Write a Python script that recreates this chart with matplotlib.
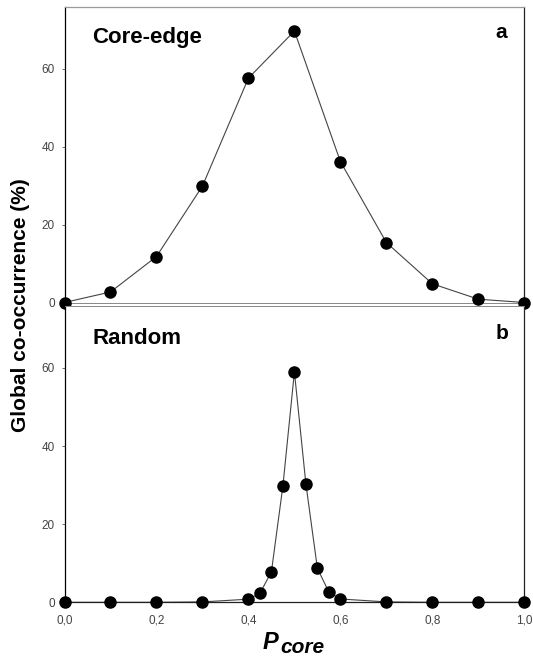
import matplotlib
matplotlib.use('Agg')
import matplotlib.pyplot as plt

plt.rcParams['font.family'] = ['Liberation Sans', 'DejaVu Sans']

# ── data ──────────────────────────────────────────────
x_core = [0.0, 0.1, 0.2, 0.3, 0.4, 0.5, 0.6, 0.7, 0.8, 0.9, 1.0]
y_core = [0.0, 2.7, 11.8, 29.9, 57.6, 69.7, 36.2, 15.4, 4.8, 0.85, 0.0]

x_rand = [0.0, 0.1, 0.2, 0.3, 0.4, 0.425, 0.45, 0.475, 0.5, 0.525, 0.55,
          0.575, 0.6, 0.7, 0.8, 0.9, 1.0]
y_rand = [0.0, 0.0, 0.0, 0.1, 0.8, 2.3, 7.8, 29.8, 59.0, 30.3, 8.7,
          2.6, 0.85, 0.1, 0.0, 0.0, 0.0]

x_ticks = [0.0, 0.2, 0.4, 0.6, 0.8, 1.0]
x_ticklabels = ['0,0', '0,2', '0,4', '0,6', '0,8', '1,0']
y_ticks = [0, 20, 40, 60]

W, H = 533, 656
fig = plt.figure(figsize=(W / 100, H / 100), dpi=100)

L, R = 64.5 / W, 524.3 / W
ax_a = fig.add_axes([L, 1 - 302.5 / H, R - L, (302.5 - 6.5) / H])
ax_b = fig.add_axes([L, 1 - 602.3 / H, R - L, (602.3 - 305.5) / H])

for ax, xs, ys in [(ax_a, x_core, y_core), (ax_b, x_rand, y_rand)]:
    ax.plot(xs, ys, '-', color='#444444', lw=0.8, zorder=2, clip_on=False)
    ax.plot(xs, ys, 'o', color='black', ms=8, zorder=3, clip_on=False)
    ax.set_xlim(0, 1)
    ax.set_ylim(0, 76)
    ax.set_yticks(y_ticks)
    ax.tick_params(axis='both', direction='out', length=2, width=0.6,
                   color='#555555', labelsize=8.5, labelcolor='#444444')
    ax.tick_params(axis='y', pad=5)
    ax.tick_params(axis='x', pad=7)
    ax.spines['left'].set_color('black')
    ax.spines['right'].set_color('#222222')
    for s in ax.spines.values():
        s.set_linewidth(0.9)

# thin double line between the panels
ax_a.spines['top'].set_color('#999999')
ax_a.spines['bottom'].set_color('#888888')
ax_a.spines['bottom'].set_linewidth(0.7)
ax_a.set_xticks([])
ax_b.spines['top'].set_color('#888888')
ax_b.spines['top'].set_linewidth(0.7)
ax_b.spines['bottom'].set_color('#222222')
ax_b.set_xticks(x_ticks)
ax_b.set_xticklabels(x_ticklabels)

# panel labels
fig.text(91.7 / W, 1 - 43.3 / H, 'Core-edge', fontsize=16, fontweight='bold',
         ha='left', va='baseline')
fig.text(507 / W, 1 - 38.3 / H, 'a', fontsize=15, fontweight='bold',
         ha='right', va='baseline')
fig.text(93 / W, 1 - 344.3 / H, 'Random', fontsize=16, fontweight='bold',
         ha='left', va='baseline')
fig.text(508 / W, 1 - 339.3 / H, 'b', fontsize=15, fontweight='bold',
         ha='right', va='baseline')

# axis labels
fig.text(21 / W, 1 - 305.5 / H, 'Global co-occurrence (%)', fontsize=15,
         fontweight='bold', rotation=90, ha='center', va='center')
fig.text(263 / W, 1 - 649 / H, 'P', fontsize=17, fontweight='bold',
         fontstyle='italic', ha='left', va='baseline')
fig.text(280 / W, 1 - 653 / H, 'core', fontsize=15, fontweight='bold',
         fontstyle='italic', ha='left', va='baseline')

fig.savefig('out.png', dpi=100, facecolor='white')
